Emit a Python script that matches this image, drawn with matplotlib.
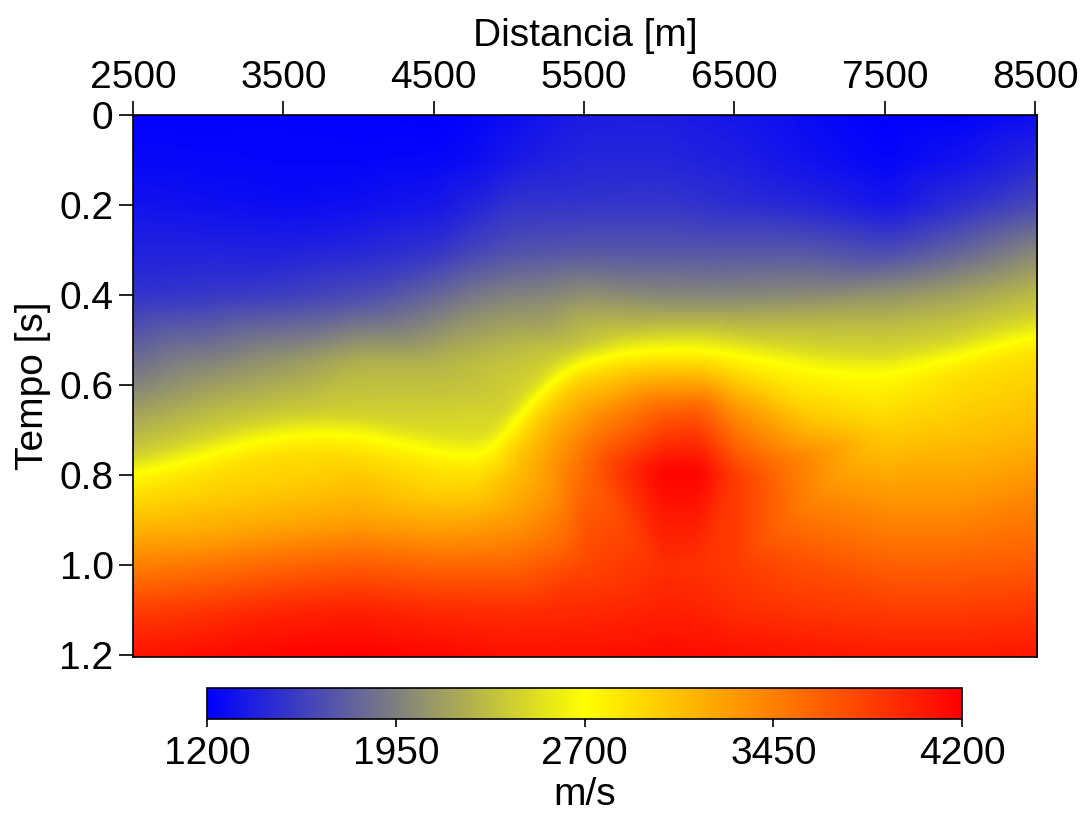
import numpy as np
import matplotlib
matplotlib.use("Agg")
import matplotlib.pyplot as plt
import matplotlib.tri as mtri
from matplotlib.colors import LinearSegmentedColormap

# ---- velocity section ----
# coarse columns [m] for the smooth parts of the section
dist_m = [2500, 3000, 3500, 4000, 4500, 4750, 5000, 5250, 5500, 6000, 6250, 6500, 7000, 7500, 8000, 8500]

# horizon times [s] per coarse column
t_mid = [0.60, 0.60, 0.55, 0.55, 0.55, 0.55, 0.50, 0.48, 0.455, 0.44, 0.445, 0.45, 0.46, 0.47, 0.445, 0.425]
t_deep1 = [0.87, 0.85, 0.82, 0.80, 0.83, 0.84, 0.78, 0.70, 0.65, 0.65, 0.65, 0.65, 0.68, 0.70, 0.70, 0.70]
t_deep2 = [0.93, 0.93, 0.90, 0.90, 0.92, 0.92, 0.88, 0.82, 0.80, 0.79, 0.79, 0.80, 0.85, 0.85, 0.85, 0.85]

# velocities [m/s] on the coarse rows
v_t000 = [1210, 1210, 1220, 1210, 1200, 1230, 1270, 1320, 1370, 1380, 1350, 1330, 1260, 1200, 1220, 1280]
v_t010 = [1250, 1240, 1230, 1230, 1240, 1270, 1340, 1390, 1420, 1420, 1400, 1380, 1300, 1230, 1310, 1430]
v_t020 = [1310, 1290, 1270, 1290, 1330, 1410, 1500, 1510, 1510, 1520, 1500, 1470, 1420, 1330, 1480, 1640]
v_t030 = [1400, 1400, 1390, 1430, 1500, 1600, 1670, 1690, 1710, 1700, 1700, 1700, 1700, 1630, 1790, 1990]
v_t040 = [1500, 1530, 1570, 1640, 1800, 1910, 1970, 1990, 2050, 2000, 1990, 1990, 2020, 2080, 2170, 2320]
v_mid = [1980, 2130, 2100, 2250, 2260, 2310, 2250, 2200, 2250, 2180, 2200, 2230, 2290, 2320, 2310, 2380]
v_deep1 = [2980, 3000, 2990, 3020, 2960, 2990, 3020, 3150, 3250, 3600, 3650, 3320, 3050, 2990, 3050, 3110]
v_deep2 = [3200, 3230, 3200, 3260, 3280, 3300, 3230, 3280, 3600, 4180, 4190, 3850, 3410, 3320, 3320, 3410]
v_t100 = [3460, 3520, 3610, 3670, 3610, 3610, 3610, 3700, 3790, 3920, 3910, 3850, 3730, 3640, 3640, 3670]
v_t110 = [3840, 3900, 3990, 4020, 3960, 3950, 3940, 3950, 3960, 4010, 4000, 3940, 3880, 3850, 3850, 3880]
v_t120 = [4100, 4140, 4180, 4200, 4170, 4140, 4110, 4110, 4110, 4140, 4130, 4110, 4080, 4050, 4050, 4080]

# flanks of the fast body near 6100 m
blob_m = [5750, 6750]
blob_t = [0.78, 0.78]
blob_v = [3900, 3580]

# the bright (2700 m/s) horizon and its two flanks
band_m = [2500, 2750, 3000, 3250, 3500, 3750, 4000, 4250, 4500, 4625, 4750, 4875, 5000, 5125, 5250, 5375,
          5500, 5750, 6000, 6250, 6500, 6750, 7000, 7250, 7500, 7750, 8000, 8250, 8500]
t_interface = [0.794, 0.775, 0.752, 0.727, 0.711, 0.704, 0.709, 0.726, 0.744, 0.750, 0.754, 0.738, 0.692, 0.642,
               0.600, 0.568, 0.548, 0.527, 0.520, 0.520, 0.531, 0.546, 0.562, 0.570, 0.570, 0.553, 0.533, 0.508, 0.489]
t_above = [0.754, 0.735, 0.712, 0.687, 0.671, 0.664, 0.669, 0.686, 0.704, 0.710, 0.714, 0.698, 0.652, 0.602,
           0.560, 0.528, 0.508, 0.487, 0.480, 0.480, 0.491, 0.506, 0.522, 0.530, 0.530, 0.513, 0.493, 0.468, 0.449]
t_below = [0.834, 0.815, 0.792, 0.767, 0.751, 0.744, 0.749, 0.766, 0.784, 0.790, 0.794, 0.778, 0.732, 0.682,
           0.640, 0.608, 0.588, 0.567, 0.560, 0.560, 0.571, 0.586, 0.602, 0.610, 0.610, 0.593, 0.573, 0.548, 0.529]
v_above = [2420, 2440, 2450, 2440, 2430, 2430, 2440, 2470, 2500, 2500, 2500, 2480, 2450, 2440, 2430, 2400,
           2370, 2390, 2400, 2410, 2420, 2450, 2480, 2480, 2470, 2460, 2450, 2450, 2450]
v_interface = [2700] * 29
v_below = [2850, 2870, 2880, 2890, 2900, 2890, 2880, 2870, 2870, 2870, 2870, 2880, 2900, 2920, 2950, 2980,
           3000, 2990, 3000, 3000, 2900, 2840, 2820, 2800, 2790, 2830, 2880, 2880, 2880]

x_ticks = [2500, 3500, 4500, 5500, 6500, 7500, 8500]
t_ticks = [0, 0.2, 0.4, 0.6, 0.8, 1.0, 1.2]
t_labels = ["0", "0.2", "0.4", "0.6", "0.8", "1.0", "1.2"]
cb_ticks = [1200, 1950, 2700, 3450, 4200]

plt.rcParams["font.family"] = ["Liberation Sans", "DejaVu Sans"]
plt.rcParams["font.size"] = 28

# collect all samples as scattered points
px, pt, pv = [], [], []
flat_rows = [(0.0, v_t000), (0.1, v_t010), (0.2, v_t020), (0.3, v_t030), (0.4, v_t040),
             (1.0, v_t100), (1.1, v_t110), (1.2, v_t120)]
for t, vals in flat_rows:
    px += dist_m
    pt += [t] * len(dist_m)
    pv += vals
for ts, vals in [(t_mid, v_mid), (t_deep1, v_deep1), (t_deep2, v_deep2)]:
    px += dist_m
    pt += ts
    pv += vals
for ts, vals in [(t_above, v_above), (t_interface, v_interface), (t_below, v_below)]:
    px += band_m
    pt += ts
    pv += vals
px += blob_m
pt += blob_t
pv += blob_v

px = np.array(px, dtype=float)
pt = np.array(pt, dtype=float)
pv = np.array(pv, dtype=float)

# triangulate (distance scaled so cells are roughly square) and resample
tri = mtri.Triangulation((px - 2500) / 5000.0, pt)
interp = mtri.LinearTriInterpolator(tri, pv)
nx, ny = 902, 540
gx = 2500 + (np.arange(nx) + 0.5) * 6000.0 / nx
gt = (np.arange(ny) + 0.5) * 1.2 / ny
GX, GT = np.meshgrid((gx - 2500) / 5000.0, gt)
field = np.ma.filled(interp(GX, GT), np.nan)
field = np.where(np.isnan(field), np.nanmean(field), field)


def blur(a, s):
    r = int(3 * s)
    k = np.exp(-0.5 * (np.arange(-r, r + 1) / s) ** 2)
    k /= k.sum()
    a = np.pad(a, r, mode="edge")
    a = np.apply_along_axis(lambda m: np.convolve(m, k, mode="valid"), 0, a)
    a = np.apply_along_axis(lambda m: np.convolve(m, k, mode="valid"), 1, a)
    return a


field = blur(field, 6)

cmap = LinearSegmentedColormap.from_list("byr", [(0.0, "#0000ff"), (0.5, "#ffff00"), (1.0, "#ff0000")])

fig = plt.figure(figsize=(10.85, 8.13), dpi=100)
ax = fig.add_axes([0.1226, 0.1919, 0.8332, 0.6666])
im = ax.imshow(field, cmap=cmap, vmin=1200, vmax=4200, aspect="auto",
               extent=[2500, 8512, 1.205, 0], interpolation="bilinear")

ax.set_xlim(2500, 8512)
ax.set_ylim(1.205, 0)
ax.xaxis.tick_top()
ax.xaxis.set_label_position("top")
ax.set_xticks(x_ticks)
ax.set_yticks(t_ticks)
ax.set_yticklabels(t_labels)
ax.tick_params(length=10, width=1.2, pad=4)
ax.set_xlabel("Distancia [m]", labelpad=10)
ax.set_ylabel("Tempo [s]", labelpad=6)
for s in ax.spines.values():
    s.set_linewidth(1.2)

cax = fig.add_axes([0.1908, 0.1156, 0.6959, 0.0381])
cb = fig.colorbar(im, cax=cax, orientation="horizontal", ticks=cb_ticks)
cb.outline.set_linewidth(1.2)
cax.tick_params(length=6, width=1.2, pad=6)
cb.set_label("m/s", labelpad=4)

fig.savefig("out.png", dpi=100)
